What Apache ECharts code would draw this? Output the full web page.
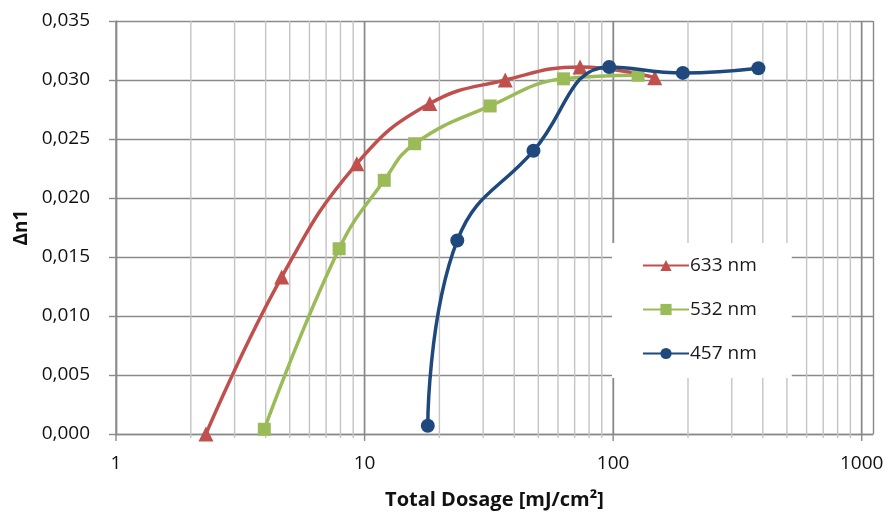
<!DOCTYPE html>
<html>
<head>
<meta charset="utf-8">
<script src="https://cdn.jsdelivr.net/npm/echarts@6/dist/echarts.min.js"></script>
<style>
html,body{margin:0;padding:0;background:#fff;}
#chart{width:888px;height:512px;}
</style>
</head>
<body>
<div id="chart"></div>
<script>
// ---- data ----
var seriesNames = ['633 nm', '532 nm', '457 nm'];
var dose633 = [2.3, 4.64, 9.3, 18.3, 36.8, 73.6, 147];
var dn633   = [0.0000, 0.0133, 0.0229, 0.0280, 0.0300, 0.0311, 0.0302];
var dose532 = [3.95, 7.9, 12.0, 15.9, 32.0, 63.1, 126];
var dn532   = [0.0004, 0.0157, 0.0215, 0.0246, 0.0278, 0.0301, 0.0304];
var dose457 = [17.96, 23.6, 47.8, 96.4, 190.7, 384];
var dn457   = [0.0007, 0.0164, 0.0240, 0.0311, 0.0306, 0.0310];
// minor log grid positions
var minorTicks = [2,3,4,5,6,7,8,9,20,30,40,50,60,70,80,90,200,300,400,500,600,700,800,900];
var majorTicks = [1, 10, 100, 1000];

var FONT = '"Open Sans"';
var colors = ['#C0504D', '#9BBB59', '#1F497D'];
var symbols = ['triangle', 'rect', 'circle'];
var symbolSizes = [15, 13, 14];

function pairs(xs, ys){ return xs.map(function(x,i){ return [x, ys[i]]; }); }

var dataSets = [pairs(dose633, dn633), pairs(dose532, dn532), pairs(dose457, dn457)];

var series = [{
  type: 'custom',
  silent: true,
  z: 1,
  data: minorTicks.concat(majorTicks).map(function(v){ return [v, 0]; }),
  encode: {x: 0, y: 1},
  renderItem: function(params, api){
    var x = api.value(0);
    var isMajor = majorTicks.indexOf(x) >= 0;
    var top = api.coord([x, 0.035]);
    var bot = api.coord([x, 0]);
    return {
      type: 'line',
      shape: {x1: top[0], y1: top[1], x2: bot[0], y2: bot[1] + (isMajor ? 7 : 4)},
      style: {stroke: isMajor ? '#8a8a8a' : '#c4c4c4', lineWidth: 1.4}
    };
  }
}];

seriesNames.forEach(function(n, i){
  series.push({
    name: n,
    type: 'line',
    smooth: 0.45,
    data: dataSets[i],
    symbol: symbols[i],
    symbolSize: symbolSizes[i],
    showAllSymbol: true,
    z: 3 + i,
    lineStyle: {color: colors[i], width: 3.5},
    itemStyle: {color: colors[i]}
  });
});

var chart = echarts.init(document.getElementById('chart'), null, {renderer: 'canvas'});
chart.setOption({
  animation: false,
  backgroundColor: '#fff',
  textStyle: {fontFamily: FONT},
  grid: {left: 116, right: 15, top: 21, bottom: 78, containLabel: false, outerBoundsMode: 'none'},
  legend: {
    orient: 'vertical',
    left: 612, top: 243,
    backgroundColor: '#fff',
    padding: [13, 35, 15, 30],
    itemWidth: 46, itemHeight: 14, itemGap: 25,
    itemStyle: {borderWidth: 0},
    textStyle: {fontFamily: FONT, fontSize: 19, color: '#1a1a1a', lineHeight: 18, padding: [0,0,0,-4]},
    data: seriesNames
  },
  xAxis: {
    type: 'log', logBase: 10,
    min: 1, max: 1110,
    name: 'Total Dosage [mJ/cm²]',
    nameLocation: 'middle', nameGap: 56,
    nameTextStyle: {fontFamily: FONT, fontSize: 20, fontWeight: 'bold', color: '#111'},
    axisLine: {show: true, lineStyle: {color: '#8a8a8a', width: 1.4}},
    axisTick: {show: false},
    axisLabel: {fontFamily: FONT, fontSize: 19, color: '#111', margin: 20, showMaxLabel: false,
      formatter: function(v){ return majorTicks.indexOf(Math.round(v)) >= 0 ? String(Math.round(v)) : ''; }},
    splitLine: {show: true, lineStyle: {color: '#8a8a8a', width: 1.4}}
  },
  yAxis: {
    type: 'value',
    min: 0, max: 0.035, interval: 0.005,
    name: 'Δn1',
    nameLocation: 'middle', nameGap: 84, nameRotate: 90,
    nameTextStyle: {fontFamily: FONT, fontSize: 19, fontWeight: 'bold', color: '#111'},
    axisLine: {show: true, lineStyle: {color: '#8a8a8a', width: 1.4}},
    axisTick: {show: true, length: 7, lineStyle: {color: '#8a8a8a', width: 1.4}},
    axisLabel: {fontFamily: FONT, fontSize: 19, color: '#111', margin: 26,
      formatter: function(v){ return v.toFixed(3).replace('.', ','); }},
    splitLine: {show: true, lineStyle: {color: '#8a8a8a', width: 1.4}}
  },
  series: series
});
</script>
</body>
</html>
